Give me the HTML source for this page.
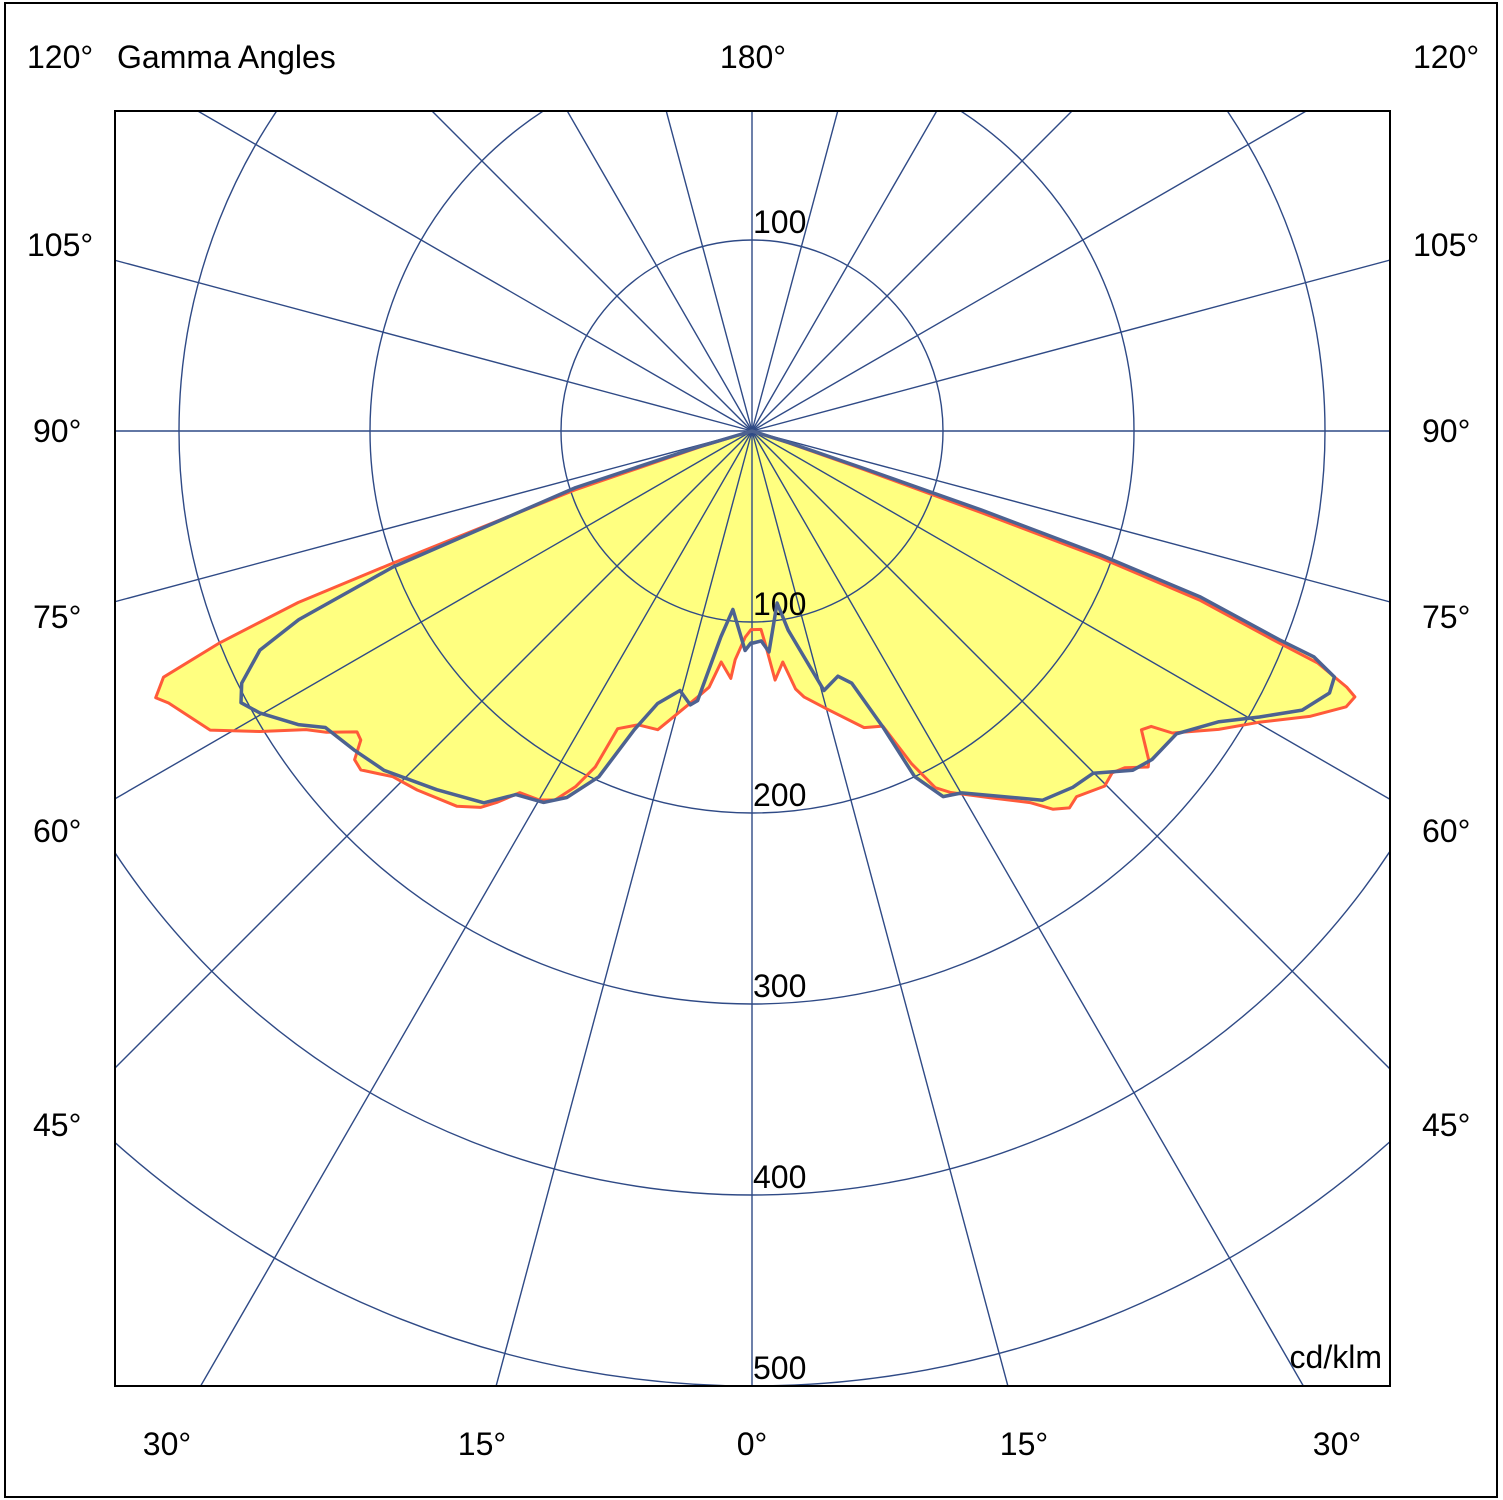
<!DOCTYPE html>
<html><head><meta charset="utf-8"><style>
html,body{margin:0;padding:0;background:#fff;overflow:hidden;width:1503px;height:1500px}
svg{display:block}
text{font-family:"Liberation Sans",Arial,sans-serif;font-size:32px;fill:#000}
</style></head><body>
<svg id="chart" width="1503" height="1500" xmlns="http://www.w3.org/2000/svg">
<rect x="5" y="3" width="1492" height="1494" fill="#fff" stroke="#000" stroke-width="2"/>
<defs><clipPath id="plotclip"><rect x="115" y="111" width="1275" height="1275"/></clipPath></defs>
<g id="fills" clip-path="url(#plotclip)"></g>
<g id="grid" clip-path="url(#plotclip)"></g>
<g id="curves" clip-path="url(#plotclip)"></g>
<rect x="115" y="111" width="1275" height="1275" fill="none" stroke="#000" stroke-width="2"/>
<g id="labels">
<text x="27" y="68">120°</text>
<text x="117" y="68">Gamma Angles</text>
<text x="753" y="68" text-anchor="middle">180°</text>
<text x="1413" y="68">120°</text>
<text x="27" y="256">105°</text>
<text x="1413" y="256">105°</text>
<text x="33" y="442">90°</text>
<text x="1422" y="442">90°</text>
<text x="33" y="628">75°</text>
<text x="1422" y="628">75°</text>
<text x="33" y="842">60°</text>
<text x="1422" y="842">60°</text>
<text x="33" y="1136">45°</text>
<text x="1422" y="1136">45°</text>
<text x="167" y="1455" text-anchor="middle">30°</text>
<text x="482" y="1455" text-anchor="middle">15°</text>
<text x="752" y="1455" text-anchor="middle">0°</text>
<text x="1024" y="1455" text-anchor="middle">15°</text>
<text x="1337" y="1455" text-anchor="middle">30°</text>
<text x="1382" y="1368" text-anchor="end">cd/klm</text>
</g>
</svg>
<script>
// Radial tick values (cd/klm)
const ringValues = [100, 200, 300, 400, 500];
const spokeAngles = [0,15,30,45,60,75,90,105,120,135,150,165,180,195,210,225,240,255,270,285,300,315,330,345];
// Red curve (C0-C180 plane) left half: gamma (deg), intensity (cd/klm)
const redLeftGamma = [90,73,71.6,69.8,69.3,68.3,67.3,65.9,65.0,61.1,58.6,56.2,54.7,52.7,51.7,50.4,49.1,46.1,43.0,38.2,35.8,34.5,32.7,30.0,28.1,26.4,25.0,24.3,21.2,17.5,15.3,11.5,9.5,7.6,4.9,4.2,1.9,0.3];
const redLeftValue = [0,28,98,200,254,300,334,342,337,324,302,281,273,260,261,270,271,261,257,250,243,236,225,223,219,208,194,171,165,164,155,142,136,122,130,120,108,104];
// Red curve right half
const redRightGamma = [0.3,2.6,3.5,5.3,7.6,9.6,11.1,15.2,20.7,23.9,25.6,27.2,28.8,33.0,36.8,38.5,40.1,41.6,44.8,46.5,47.9,49.7,50.3,52.5,53.5,54.3,57.4,60.1,62.9,65.1,66.2,66.7,67.7,68.1,69.3,70.0,70.4,71,72,90];
const redRightValue = [104,104,111,131,122,137,142,151,166,169,193,210,216,229,243,253,258,256,262,260,263,272,270,257,260,271,290,306,328,343,345,339,320,297,251,194,128,62,20,0];
// Blue curve (C90-C270 plane) left half
const blueLeftGamma = [90,73.5,72.2,69.25,67.4,66.0,63.7,62.0,60.2,57.1,55.2,51.3,47.3,41.3,35.8,33.0,29.3,26.8,23.9,21.5,19.1,15.5,12.7,11.4,8.6,6.1,1.8,0.3];
const blueLeftValue = [0,30,97,201,257,282,298,303,297,283,272,267,262,250,240,227,223,215,198,168,151,141,147,144,109,94,115,111];
// Blue curve right half
const blueRightGamma = [0.3,2.5,4.4,8.3,10.3,15.5,19.3,21.6,23.9,25.2,27.6,30.1,38.2,42.0,44.9,48.3,50.6,54.5,58.1,60.6,63.1,65.6,67.1,68.1,68.4,69.7,70.4,71.0,71.5,72.5,90];
const blueRightValue = [111,110,116,91,106,141,136,142,170,200,216,219,246,251,253,267,271,273,288,305,323,332,331,317,297,250,194,127,62,20,0];

const NS = 'http://www.w3.org/2000/svg';
const cx = 752, cy = 431, pxPerUnit = 1.91;
function rScale(v){ return v * pxPerUnit; }
function toXY(gammaDeg, value, side){ // side -1 = left, +1 = right
  const a = gammaDeg * Math.PI / 180, r = rScale(value);
  return [cx + side * r * Math.sin(a), cy + r * Math.cos(a)];
}
function polyPoints(gl, vl, gr, vr){
  const pts = [];
  for (let i = 0; i < gl.length; i++) pts.push(toXY(gl[i], vl[i], -1));
  for (let i = 0; i < gr.length; i++) pts.push(toXY(gr[i], vr[i], 1));
  return pts.map(p => p[0].toFixed(1) + ',' + p[1].toFixed(1)).join(' ');
}
const fills = document.getElementById('fills');
const grid = document.getElementById('grid');
const curves = document.getElementById('curves');
const gridColor = '#2f4a86';

const redPts = polyPoints(redLeftGamma, redLeftValue, redRightGamma, redRightValue);
const bluePts = polyPoints(blueLeftGamma, blueLeftValue, blueRightGamma, blueRightValue);
[redPts, bluePts].forEach((pts, i) => {
  const p = document.createElementNS(NS, 'polygon');
  p.setAttribute('points', pts);
  p.setAttribute('fill', '#ffff80');
  p.setAttribute('stroke', 'none');
  
  
  fills.appendChild(p);
});

ringValues.forEach(v => {
  const c = document.createElementNS(NS, 'circle');
  c.setAttribute('cx', cx); c.setAttribute('cy', cy); c.setAttribute('r', rScale(v));
  c.setAttribute('fill', 'none'); c.setAttribute('stroke', gridColor); c.setAttribute('stroke-width', '1.4');
  
  
  grid.appendChild(c);
});
spokeAngles.forEach(g => {
  const a = g * Math.PI / 180, R = 2000;
  const l = document.createElementNS(NS, 'line');
  l.setAttribute('x1', cx); l.setAttribute('y1', cy);
  l.setAttribute('x2', cx + R * Math.sin(a)); l.setAttribute('y2', cy + R * Math.cos(a));
  l.setAttribute('stroke', gridColor); l.setAttribute('stroke-width', '1.4');
  
  
  grid.appendChild(l);
});
ringValues.forEach((v, i) => {
  const t = document.createElementNS(NS, 'text');
  t.setAttribute('x', cx + 1);
  t.setAttribute('y', cy + rScale(v) - 7);
  t.textContent = v;
  
  
  grid.appendChild(t);
});
{
  const t = document.createElementNS(NS, 'text');
  t.setAttribute('x', cx + 1);
  t.setAttribute('y', cy - rScale(ringValues[0]) - 7);
  t.textContent = ringValues[0];
  
  
  grid.appendChild(t);
}

[[redPts, '#ff5a3a', 3, 'curve-c0-c180'], [bluePts, '#4d6291', 3.5, 'curve-c90-c270']].forEach(s => {
  const p = document.createElementNS(NS, 'polygon');
  p.setAttribute('points', s[0]);
  p.setAttribute('fill', 'none');
  p.setAttribute('stroke', s[1]);
  p.setAttribute('stroke-width', s[2]);
  p.setAttribute('stroke-linejoin', 'round');
  
  
  curves.appendChild(p);
});
</script>
</body></html>
